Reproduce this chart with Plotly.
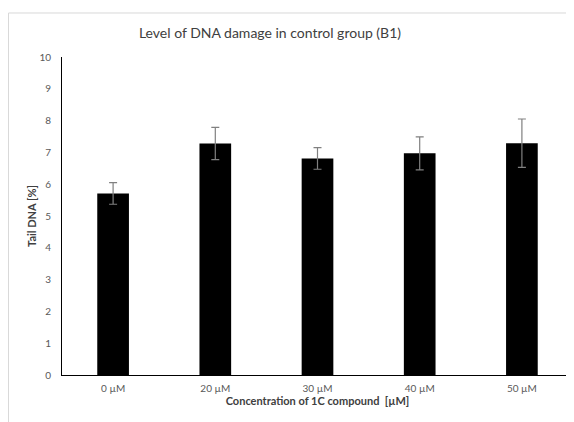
import plotly.graph_objects as go

categories = ["0 µM", "20 µM", "30 µM", "40 µM", "50 µM"]
tail_dna = [5.71, 7.28, 6.81, 6.97, 7.29]
errors = [0.34, 0.51, 0.34, 0.52, 0.76]
y_ticks = list(range(0, 11))

FONT = "Lato, 'Open Sans', sans-serif"

fig = go.Figure()
fig.add_trace(go.Bar(
    x=categories, y=tail_dna,
    marker=dict(color="black", line=dict(width=0)),
    error_y=dict(type="data", array=errors, visible=True,
                 color="#808080", thickness=1.2, width=4),
))

# light grey chart-area frame
fig.add_shape(type="rect", xref="paper", yref="paper",
              x0=-0.1047, x1=1.02, y0=-0.2, y1=1.1384,
              line=dict(color="#d9d9d9", width=1), fillcolor="rgba(0,0,0,0)", layer="below")

fig.update_layout(
    width=566, height=414,
    margin=dict(l=54, r=1, t=49, b=47, autoexpand=False),
    paper_bgcolor="white", plot_bgcolor="white",
    bargap=0.69,
    showlegend=False,
    font=dict(family=FONT, color="#404040"),
    title=dict(text="Level of DNA damage in control group (B1)",
               x=0.407, xref="paper", xanchor="center", y=0.94, yanchor="middle",
               automargin=False,
               font=dict(size=14, color="#404040", family=FONT)),
    xaxis=dict(showline=True, linecolor="black", linewidth=1, showgrid=False,
               automargin=False,
               ticks="", tickfont=dict(size=10, color="#595959"), ticklabelstandoff=4,
               title=dict(text="<b>Concentration of 1C compound  [µM]</b>",
                          font=dict(size=11, color="#404040"), standoff=3)),
    yaxis=dict(range=[0, 10], tickvals=y_ticks, showline=True, linecolor="black",
               linewidth=1, showgrid=False, zeroline=False, ticks="",
               automargin=False,
               tickfont=dict(size=10, color="#595959"), ticklabelstandoff=8,
               title=dict(text="<b>Tail DNA [%]</b>", font=dict(size=11, color="#404040"),
                          standoff=0)),
)

fig.write_html("out.html")
